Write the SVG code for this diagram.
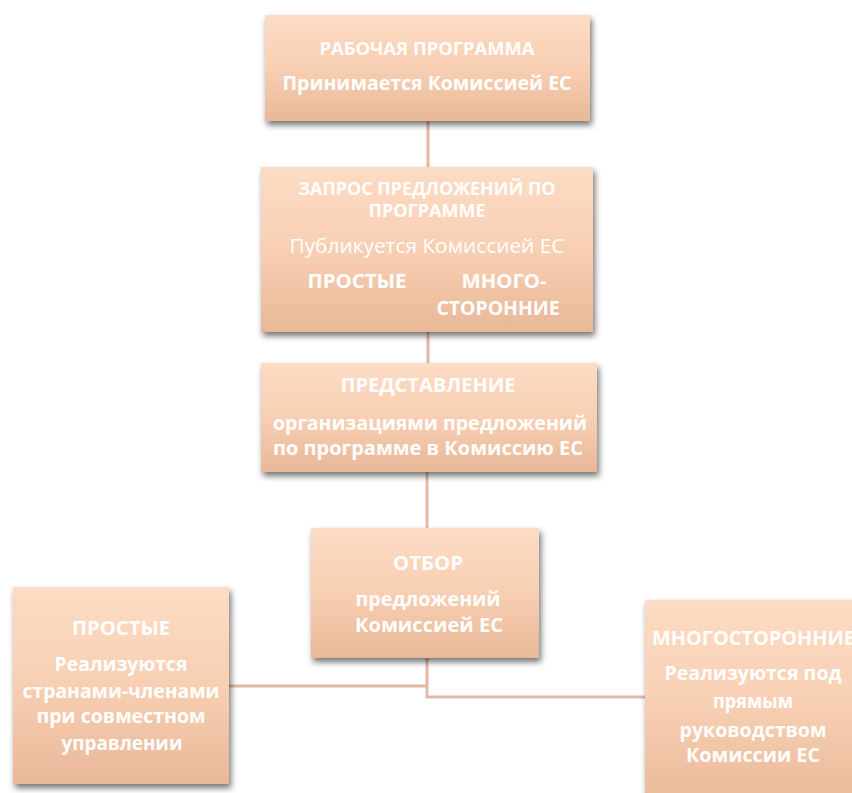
<svg xmlns="http://www.w3.org/2000/svg" width="852" height="793" viewBox="0 0 852 793">
<defs>
<linearGradient id="g" x1="0" y1="0" x2="0" y2="1">
<stop offset="0" stop-color="#fcdcc4"/>
<stop offset="0.5" stop-color="#f8cfb3"/>
<stop offset="1" stop-color="#e8b898"/>
</linearGradient>
<filter id="sh" x="-10%" y="-10%" width="130%" height="140%">
<feDropShadow dx="2" dy="4" stdDeviation="3" flood-color="#000" flood-opacity="0.55"/>
</filter>
</defs>
<style>
.box{fill:url(#g);filter:url(#sh)}
.t{font-family:"Open Sans","Noto Sans","Liberation Sans",sans-serif;fill:#fff;font-weight:bold;text-anchor:middle;font-size:20px}
.s{font-size:17px}
.r{font-weight:normal}
.c{stroke:#e2b9a3;stroke-width:3;fill:none}
</style>
<rect width="852" height="793" fill="#fff"/>
<g id="connectors">
<line class="c" x1="428" y1="121" x2="428" y2="167" stroke="#c9a090"/>
<line class="c" x1="428" y1="332" x2="428" y2="363"/>
<line class="c" x1="427" y1="472" x2="427" y2="528"/>
<polyline class="c" points="427,658 427,697 645,697"/>
<line class="c" x1="229" y1="686" x2="427" y2="686"/>
</g>
<g id="n1">
<rect class="box" x="265" y="15" width="325" height="106"/>
<text class="t s" x="427" y="55" textLength="215" lengthAdjust="spacingAndGlyphs">РАБОЧАЯ ПРОГРАММА</text>
<text class="t" x="427" y="90" textLength="289" lengthAdjust="spacingAndGlyphs">Принимается Комиссией ЕС</text>
</g>
<g id="n2">
<rect class="box" x="261" y="167" width="332" height="165"/>
<text class="t s" x="427" y="195" textLength="257" lengthAdjust="spacingAndGlyphs">ЗАПРОС ПРЕДЛОЖЕНИЙ ПО</text>
<text class="t s" x="427" y="217" textLength="117" lengthAdjust="spacingAndGlyphs">ПРОГРАММЕ</text>
<text class="t r" x="427" y="253" textLength="275" lengthAdjust="spacingAndGlyphs">Публикуется Комиссией ЕС</text>
<text class="t" x="357" y="288" textLength="99" lengthAdjust="spacingAndGlyphs">ПРОСТЫЕ</text>
<text class="t" x="504" y="288" textLength="85" lengthAdjust="spacingAndGlyphs">МНОГО-</text>
<text class="t" x="498" y="315" textLength="123" lengthAdjust="spacingAndGlyphs">СТОРОННИЕ</text>
</g>
<g id="n3">
<rect class="box" x="261" y="363" width="336" height="109"/>
<text class="t" x="428" y="392" textLength="175" lengthAdjust="spacingAndGlyphs">ПРЕДСТАВЛЕНИЕ</text>
<text class="t" x="430" y="430" textLength="314" lengthAdjust="spacingAndGlyphs">организациями предложений</text>
<text class="t" x="428" y="455" textLength="310" lengthAdjust="spacingAndGlyphs">по программе в Комиссию ЕС</text>
</g>
<g id="n4">
<rect class="box" x="311" y="528" width="228" height="130"/>
<text class="t" x="428" y="570" textLength="70" lengthAdjust="spacingAndGlyphs">ОТБОР</text>
<text class="t" x="428" y="606" textLength="145" lengthAdjust="spacingAndGlyphs">предложений</text>
<text class="t" x="429" y="632" textLength="148" lengthAdjust="spacingAndGlyphs">Комиссией ЕС</text>
</g>
<g id="n5">
<rect class="box" x="13" y="587" width="216" height="197"/>
<text class="t" x="121" y="635" textLength="98" lengthAdjust="spacingAndGlyphs">ПРОСТЫЕ</text>
<text class="t" x="121" y="671" textLength="133" lengthAdjust="spacingAndGlyphs">Реализуются</text>
<text class="t" x="121" y="698" textLength="197" lengthAdjust="spacingAndGlyphs">странами-членами</text>
<text class="t" x="121" y="723" textLength="169" lengthAdjust="spacingAndGlyphs">при совместном</text>
<text class="t" x="122" y="750" textLength="121" lengthAdjust="spacingAndGlyphs">управлении</text>
</g>
<g id="n6">
<rect class="box" x="645" y="600" width="230" height="210"/>
<text class="t" x="652" y="645" style="text-anchor:start" textLength="203" lengthAdjust="spacingAndGlyphs">МНОГОСТОРОННИЕ</text>
<text class="t" x="753" y="680" textLength="177" lengthAdjust="spacingAndGlyphs">Реализуются под</text>
<text class="t" x="753" y="708" textLength="80" lengthAdjust="spacingAndGlyphs">прямым</text>
<text class="t" x="753" y="737" textLength="147" lengthAdjust="spacingAndGlyphs">руководством</text>
<text class="t" x="753" y="762" textLength="134" lengthAdjust="spacingAndGlyphs">Комиссии ЕС</text>
</g>
</svg>
